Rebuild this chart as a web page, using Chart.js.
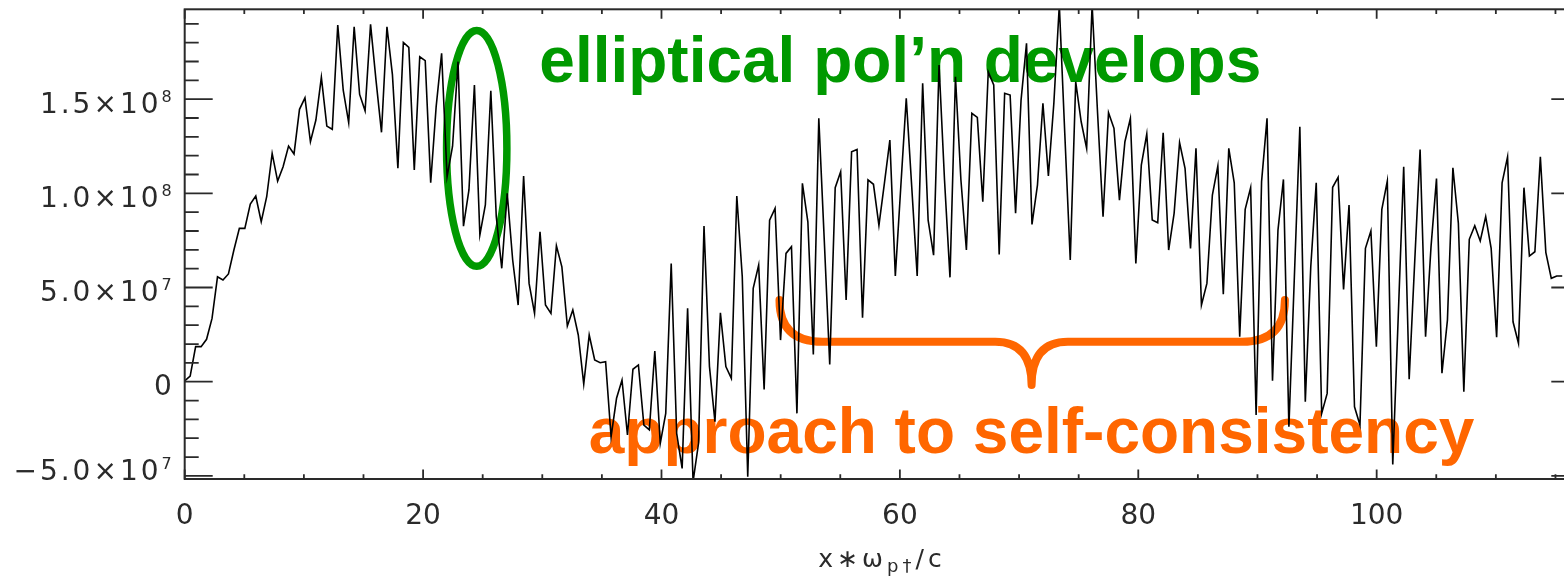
<!DOCTYPE html>
<html>
<head>
<meta charset="utf-8">
<script src="https://cdn.jsdelivr.net/npm/chart.js@4.4.1/dist/chart.umd.min.js"></script>
<style>
  html, body { margin: 0; padding: 0; background: #fff; overflow: hidden; }
  #wrap { width: 1600px; height: 581px; }
</style>
</head>
<body>
<div id="wrap"><canvas id="fieldChart" width="1600" height="581"></canvas></div>
<script>
// campo muestreado a paso constante en x (unidades de 1e7)
const sampleStep = 0.4586;
const fieldValues = [
  0.04, 0.30, 1.86, 1.86, 2.25, 3.36, 5.57, 5.40, 5.72, 6.99,
  8.14, 8.14, 9.43, 9.86, 8.49, 9.82, 12.12, 10.65, 11.41, 12.51,
  12.09, 14.46, 15.07, 12.74, 13.89, 16.16, 13.57, 13.40, 18.93, 15.48,
  13.75, 18.84, 15.25, 14.38, 18.97, 16.0, 13.24, 18.84, 16.3, 11.33,
  18.01, 17.75, 11.24, 17.25, 17.04, 10.56, 14.60, 17.43, 10.88, 12.5,
  16.99, 8.26, 10.18, 15.75, 7.79, 9.38, 15.45, 8.76, 6.02, 10.0,
  6.46, 4.07, 10.92, 5.22, 3.63, 7.96, 4.07, 3.63, 7.22, 6.10,
  2.96, 3.81, 2.48, -0.12, 2.48, 1.15, 1.01, 1.06, -2.92, -0.88,
  0.09, -2.83, 0.66, 0.89, -2.30, -2.56, 1.63, -3.27, -1.68, 6.28,
  -2.74, -4.60, 3.90, -5.3, -3.27, 8.26, 0.80, -2.12, 3.66, 0.80,
  0.18, 9.86, 5.57, -5.04, 4.96, 6.19, -0.41, 8.58, 9.20, 2.21,
  6.81, 7.17, -1.68, 10.53, 8.49, 1.45, 13.98, 7.52, 0.92, 10.30,
  11.15, 4.34, 12.21, 12.33, 3.40, 10.71, 10.48, 8.30, 10.53, 12.83,
  5.61, 10.35, 15.04, 10.35, 5.61, 15.84, 8.58, 6.72, 16.81, 10.71,
  5.54, 16.19, 10.71, 6.99, 14.25, 14.03, 9.55, 16.45, 15.75, 6.76,
  15.31, 15.22, 8.94, 14.95, 17.96, 8.35, 10.44, 14.78, 10.93, 14.78,
  20.0, 13.18, 6.46, 15.92, 13.80, 12.39, 20.0, 14.25, 8.76, 14.28,
  13.45, 9.64, 12.74, 13.98, 6.28, 11.50, 13.15, 8.58, 8.44, 13.22,
  6.99, 8.94, 12.69, 11.33, 7.08, 12.39, 4.07, 5.22, 9.91, 11.45,
  4.65, 12.39, 10.56, 2.39, 9.15, 10.30, -1.77, 10.62, 13.98, 0.05,
  8.05, 10.74, -2.39, 5.57, 13.53, -1.06, 6.10, 10.56, -1.68, -0.62,
  10.32, 10.85, 4.90, 9.38, -1.33, -2.30, 7.08, 8.00, 1.86, 9.15,
  10.65, -4.39, 3.45, 11.41, 0.13, 6.28, 12.33, 2.39, 7.17, 10.78,
  0.45, 3.27, 11.36, 8.41, -0.53, 7.56, 8.28, 7.47, 8.76, 7.08,
  2.36, 10.56, 11.94, 3.18, 2.04, 10.30, 6.67, 6.90, 11.94, 6.87,
  5.49, 5.61, 5.61
];
const fieldUnit = 1e7;

// etiquetas de los ejes
const xTickValues = [0, 20, 40, 60, 80, 100];
const yTickValues = [-5e7, 0, 5e7, 1e8, 1.5e8];
const xMinorStep = 5;
const yMinorStep = 1e7;

const xRange = [0, 117];
const yRange = [-5.165e7, 1.977e8];

// 1.5e8 -> ["1.5×10", "8"]
function sciParts(v) {
  if (v === 0) return ['0', ''];
  const e = Math.floor(Math.log10(Math.abs(v)));
  const m = v / Math.pow(10, e);
  const sign = m < 0 ? '\u2212' : '';
  return [sign + Math.abs(m).toFixed(1) + '\u00d710', String(e)];
}

const inkColor = '#2a2a2a';
const fontFamily = "'DejaVu Sans', Arial, sans-serif";
const labelFont = { family: fontFamily, size: 28 };

// marco con ticks hacia adentro en los cuatro lados, etiquetas del eje y y titulo del eje x
const frameTicks = {
  id: 'frameTicks',
  afterDraw(chart) {
    const { ctx, chartArea: a, scales: { x, y } } = chart;
    ctx.save();
    ctx.strokeStyle = inkColor;
    ctx.lineWidth = 2;
    ctx.strokeRect(a.left, a.top, a.right - a.left, a.bottom - a.top);

    ctx.lineWidth = 1.8;
    ctx.beginPath();
    // eje x: mayores cada 20, menores cada 5
    for (let v = 0; v <= xRange[1]; v += xMinorStep) {
      const px = x.getPixelForValue(v);
      const len = xTickValues.includes(v) ? 9.5 : 4.7;
      ctx.moveTo(px, a.bottom); ctx.lineTo(px, a.bottom - len);
      ctx.moveTo(px, a.top); ctx.lineTo(px, a.top + len);
    }
    // eje y: mayores cada 5e7, menores cada 1e7
    const k0 = Math.ceil(yRange[0] / yMinorStep);
    const k1 = Math.floor(yRange[1] / yMinorStep);
    for (let k = k0; k <= k1; k++) {
      const py = y.getPixelForValue(k * yMinorStep);
      const len = k % 5 === 0 ? 28 : 14;
      ctx.moveTo(a.left, py); ctx.lineTo(a.left + len, py);
      ctx.moveTo(a.right, py); ctx.lineTo(a.right - len, py);
    }
    ctx.stroke();

    // etiquetas del eje y con exponente
    ctx.fillStyle = inkColor;
    ctx.textBaseline = 'alphabetic';
    ctx.textAlign = 'left';
    ctx.letterSpacing = '3px';
    yTickValues.forEach(v => {
      const [main, exp] = sciParts(v);
      const py = y.getPixelForValue(v);
      const base = Math.min(py + 13.5, a.bottom + 1);
      ctx.font = '16px ' + fontFamily;
      const ew = exp ? ctx.measureText(exp).width : 0;
      ctx.font = '28px ' + fontFamily;
      const mw = ctx.measureText(main).width;
      const right = a.left - 10;
      ctx.fillText(main, right - ew - mw, base);
      if (exp) {
        ctx.font = '16px ' + fontFamily;
        ctx.fillText(exp, right - ew, base - 11);
      }
    });

    // titulo del eje x con subindice
    const cx = (a.left + a.right) / 2;
    const base = 566.7;
    const parts = [
      { t: 'x\u2217\u03c9', size: 25, dy: 0 },
      { t: 'p\u2020', size: 18, dy: 5 },
      { t: '/c', size: 25, dy: 0 }
    ];
    ctx.letterSpacing = '4px';
    let total = 0;
    parts.forEach(p => {
      ctx.font = p.size + 'px ' + fontFamily;
      p.w = ctx.measureText(p.t).width;
      total += p.w;
    });
    let tx = cx - total / 2;
    parts.forEach(p => {
      ctx.font = p.size + 'px ' + fontFamily;
      ctx.fillText(p.t, tx, base + p.dy);
      tx += p.w;
    });
    ctx.restore();
  }
};

// elipse, llave y textos de las anotaciones
const notes = {
  id: 'notes',
  beforeDatasetsDraw(chart) {
    const { ctx, scales: { x, y } } = chart;
    const X = v => x.getPixelForValue(v);
    const Y = v => y.getPixelForValue(v * fieldUnit);
    ctx.save();

    ctx.textBaseline = 'alphabetic';
    ctx.textAlign = 'left';
    ctx.font = "bold 64px 'Liberation Sans', Arial, sans-serif";
    ctx.fillStyle = '#009900';
    ctx.fillText('elliptical pol\u2019n develops', X(29.75), Y(15.92));
    ctx.fillStyle = '#ff6600';
    ctx.fillText('approach to self-consistency', X(33.9), Y(-3.8));

    // elipse verde
    ctx.strokeStyle = '#009900';
    ctx.lineWidth = 7.5;
    ctx.beginPath();
    const ex = X(24.5), ey = Y(12.39);
    ctx.ellipse(ex, ey, X(24.5 + 2.53) - ex, Y(12.39 - 6.26) - ey, 0, 0, Math.PI * 2);
    ctx.stroke();

    // llave naranja
    ctx.strokeStyle = '#ff6600';
    ctx.lineWidth = 8;
    ctx.lineCap = 'round';
    ctx.lineJoin = 'round';
    const top = Y(4.34), mid = Y(2.12), tip = Y(-0.18);
    ctx.beginPath();
    ctx.moveTo(X(49.9), top);
    ctx.quadraticCurveTo(X(49.9), mid, X(53.5), mid);
    ctx.lineTo(X(68.0), mid);
    ctx.quadraticCurveTo(X(71.05), mid, X(71.05), tip);
    ctx.quadraticCurveTo(X(71.05), mid, X(74.1), mid);
    ctx.lineTo(X(88.7), mid);
    ctx.quadraticCurveTo(X(92.3), mid, X(92.3), top);
    ctx.stroke();
    ctx.restore();
  }
};

const chart = new Chart(document.getElementById('fieldChart'), {
  type: 'line',
  data: {
    datasets: [{
      data: fieldValues.map((v, i) => ({ x: i * sampleStep, y: v * fieldUnit })),
      borderColor: '#000',
      borderWidth: 1.6,
      pointRadius: 0,
      tension: 0,
      fill: false
    }]
  },
  options: {
    responsive: false,
    animation: false,
    devicePixelRatio: 1,
    layout: { padding: { left: 0, top: 9.3, right: 20.7, bottom: 0 } },
    plugins: { legend: { display: false }, tooltip: { enabled: false } },
    scales: {
      x: {
        type: 'linear',
        min: xRange[0],
        max: xRange[1],
        afterBuildTicks: s => { s.ticks = xTickValues.map(v => ({ value: v })); },
        afterFit: s => { s.height = 102; s.paddingLeft = 0; s.paddingRight = 0; },
        grid: { display: false, drawTicks: false },
        border: { display: false },
        ticks: { color: inkColor, font: labelFont, padding: 21, maxRotation: 0, autoSkip: false }
      },
      y: {
        min: yRange[0],
        max: yRange[1],
        afterBuildTicks: s => { s.ticks = yTickValues.map(v => ({ value: v })); },
        afterFit: s => { s.width = 184.7; s.paddingTop = 0; s.paddingBottom = 0; },
        grid: { display: false, drawTicks: false },
        border: { display: false },
        // las etiquetas con exponente se dibujan en frameTicks
        ticks: { display: false }
      }
    }
  },
  plugins: [notes, frameTicks]
});
</script>
</body>
</html>
